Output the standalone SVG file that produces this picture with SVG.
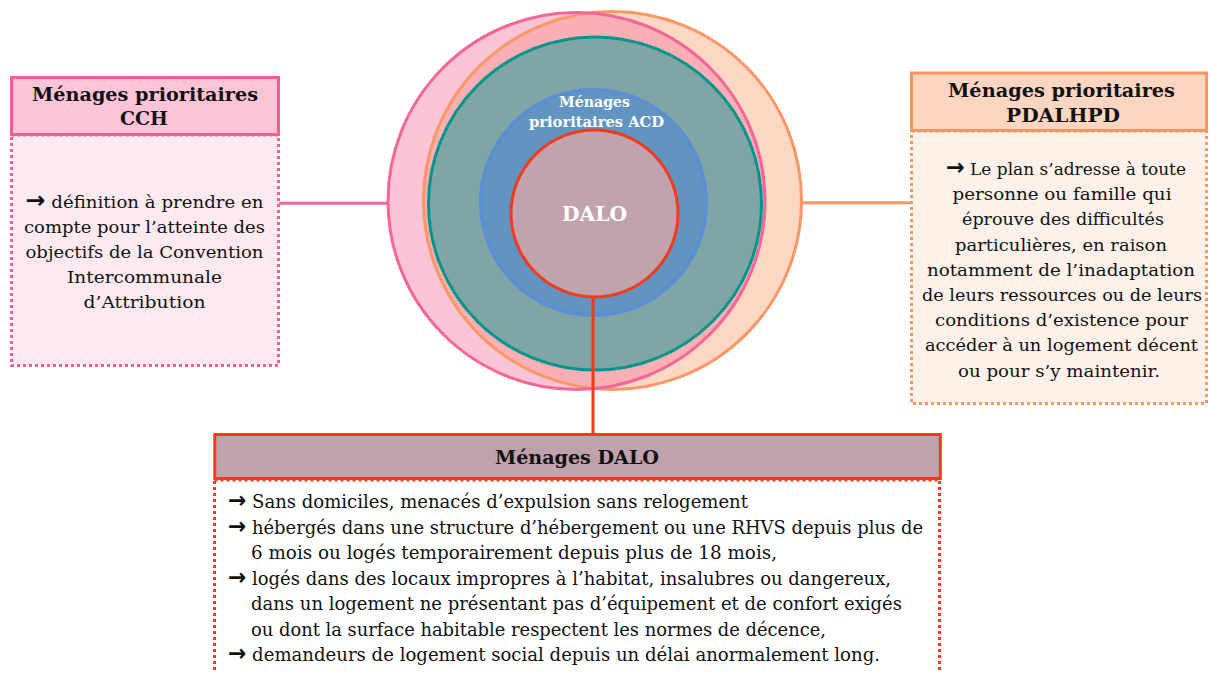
<svg xmlns="http://www.w3.org/2000/svg" width="1209" height="673" viewBox="0 0 1209 673">
<style>
  text { font-family: "DejaVu Serif", "Liberation Serif", serif; fill: #111111; }
  .hd { font-weight: bold; font-size: 18.5px; text-anchor: middle; }
  .bd { font-size: 17.5px; text-anchor: middle; }
  .bl { font-size: 19px; }
  .ci { font-weight: bold; fill: #ffffff; text-anchor: middle; }
  .arr { font-family: "DejaVu Sans", sans-serif; font-weight: bold; font-size: 23px; }
  .dot { stroke-width: 3; stroke-dasharray: 3 3; }
</style>
<defs>
  <clipPath id="clipPink"><circle cx="576.5" cy="201" r="188.5"/></clipPath>
</defs>

<!-- Circles -->
<g id="circle-cch">
  <circle cx="576.5" cy="201" r="188.5" fill="#FAC4D7"/>
</g>
<g id="circle-pdalhpd">
  <circle cx="612.5" cy="200.5" r="189" fill="#FCD7C3"/>
  <circle cx="612.5" cy="200.5" r="189" fill="#F9AFB4" clip-path="url(#clipPink)"/>
  <circle cx="612.5" cy="200.5" r="189" fill="none" stroke="#F99866" stroke-width="3"/>
</g>
<g id="circle-cch-outline">
  <circle cx="576.5" cy="201" r="188.5" fill="none" stroke="#F3669A" stroke-width="3"/>
</g>
<g id="circle-teal">
  <circle cx="595" cy="203.5" r="166.5" fill="#7FA5A5" stroke="#00968F" stroke-width="3"/>
</g>
<g id="circle-acd">
  <circle cx="593.5" cy="202.5" r="113" fill="#6194C1" stroke="#5A8FD8" stroke-width="3"/>
  <text class="ci" x="594.5" y="106.5" font-size="15" textLength="71" lengthAdjust="spacingAndGlyphs">Ménages</text>
  <text class="ci" x="596.5" y="126.5" font-size="15" textLength="135" lengthAdjust="spacingAndGlyphs">prioritaires ACD</text>
</g>
<g id="circle-dalo">
  <circle cx="594.5" cy="213.5" r="83.5" fill="#C1A3AD" stroke="#F23A1C" stroke-width="3"/>
  <text class="ci" x="594.5" y="221" font-size="20" textLength="65" lengthAdjust="spacingAndGlyphs">DALO</text>
</g>

<!-- Connectors -->
<g id="connectors" fill="none" stroke-width="3">
  <line x1="279" y1="203.3" x2="387" y2="203.3" stroke="#F3669A"/>
  <line x1="802" y1="202.7" x2="911" y2="202.7" stroke="#F99866"/>
  <line x1="593" y1="297" x2="593" y2="434" stroke="#F23A1C"/>
</g>

<!-- CCH box -->
<g id="node-cch">
  <rect class="dot" x="11.5" y="135" width="267" height="230.5" fill="#FDEAF0" stroke="#F0628E"/>
  <rect x="11.5" y="77.5" width="267" height="57" fill="#FDC4D7" stroke="#F0628E" stroke-width="3"/>
  <text class="hd" x="145" y="101" textLength="226" lengthAdjust="spacingAndGlyphs">Ménages prioritaires</text>
  <text class="hd" x="144" y="125" textLength="48" lengthAdjust="spacingAndGlyphs">CCH</text>
  <text class="bd" x="144.5" y="208" textLength="238" lengthAdjust="spacingAndGlyphs"><tspan class="arr">→</tspan> définition à prendre en</text>
  <text class="bd" x="144.5" y="233" textLength="241" lengthAdjust="spacingAndGlyphs">compte pour l’atteinte des</text>
  <text class="bd" x="144.5" y="258" textLength="238" lengthAdjust="spacingAndGlyphs">objectifs de la Convention</text>
  <text class="bd" x="144.5" y="283" textLength="155" lengthAdjust="spacingAndGlyphs">Intercommunale</text>
  <text class="bd" x="144.5" y="308" textLength="122" lengthAdjust="spacingAndGlyphs">d’Attribution</text>
</g>

<!-- PDALHPD box -->
<g id="node-pdalhpd">
  <rect class="dot" x="911.5" y="131" width="295" height="272.5" fill="#FDF1EA" stroke="#F89660"/>
  <rect x="911.5" y="73" width="295" height="57.5" fill="#FDD5C0" stroke="#F89660" stroke-width="3"/>
  <text class="hd" x="1061.5" y="97.3" textLength="227" lengthAdjust="spacingAndGlyphs">Ménages prioritaires</text>
  <text class="hd" x="1063" y="122.3" textLength="114" lengthAdjust="spacingAndGlyphs">PDALHPD</text>
  <text class="bd" x="1066" y="175" textLength="240" lengthAdjust="spacingAndGlyphs"><tspan class="arr">→</tspan> Le plan s’adresse à toute</text>
  <text class="bd" x="1062" y="200.2" textLength="219" lengthAdjust="spacingAndGlyphs">personne ou famille qui</text>
  <text class="bd" x="1063" y="225.4" textLength="202" lengthAdjust="spacingAndGlyphs">éprouve des difficultés</text>
  <text class="bd" x="1061" y="250.6" textLength="212" lengthAdjust="spacingAndGlyphs">particulières, en raison</text>
  <text class="bd" x="1061" y="275.8" textLength="268" lengthAdjust="spacingAndGlyphs">notamment de l’inadaptation</text>
  <text class="bd" x="1062" y="301" textLength="280" lengthAdjust="spacingAndGlyphs">de leurs ressources ou de leurs</text>
  <text class="bd" x="1061.5" y="326.2" textLength="253" lengthAdjust="spacingAndGlyphs">conditions d’existence pour</text>
  <text class="bd" x="1061.5" y="351.4" textLength="273" lengthAdjust="spacingAndGlyphs">accéder à un logement décent</text>
  <text class="bd" x="1059" y="376.6" textLength="202" lengthAdjust="spacingAndGlyphs">ou pour s’y maintenir.</text>
</g>

<!-- DALO box -->
<g id="node-dalo">
  <rect class="dot" x="214.5" y="480" width="725" height="210" fill="#FFFFFF" stroke="#F23A1C"/>
  <rect x="214.8" y="434.5" width="725.5" height="44" fill="#C0A2AD" stroke="#F23A1C" stroke-width="3"/>
  <text class="hd" x="577" y="464" font-size="19" textLength="164" lengthAdjust="spacingAndGlyphs">Ménages DALO</text>
  <text class="bl" x="228" y="508" textLength="520" lengthAdjust="spacingAndGlyphs"><tspan class="arr">→</tspan> Sans domiciles, menacés d’expulsion sans relogement</text>
  <text class="bl" x="228" y="533.5" textLength="695" lengthAdjust="spacingAndGlyphs"><tspan class="arr">→</tspan> hébergés dans une structure d’hébergement ou une RHVS depuis plus de</text>
  <text class="bl" x="251" y="559" textLength="526" lengthAdjust="spacingAndGlyphs">6 mois ou logés temporairement depuis plus de 18 mois,</text>
  <text class="bl" x="228" y="584.5" textLength="663" lengthAdjust="spacingAndGlyphs"><tspan class="arr">→</tspan> logés dans des locaux impropres à l’habitat, insalubres ou dangereux,</text>
  <text class="bl" x="251" y="610" textLength="651" lengthAdjust="spacingAndGlyphs">dans un logement ne présentant pas d’équipement et de confort exigés</text>
  <text class="bl" x="251" y="635.5" textLength="575" lengthAdjust="spacingAndGlyphs">ou dont la surface habitable respectent les normes de décence,</text>
  <text class="bl" x="228" y="661" textLength="652" lengthAdjust="spacingAndGlyphs"><tspan class="arr">→</tspan> demandeurs de logement social depuis un délai anormalement long.</text>
</g>
</svg>
